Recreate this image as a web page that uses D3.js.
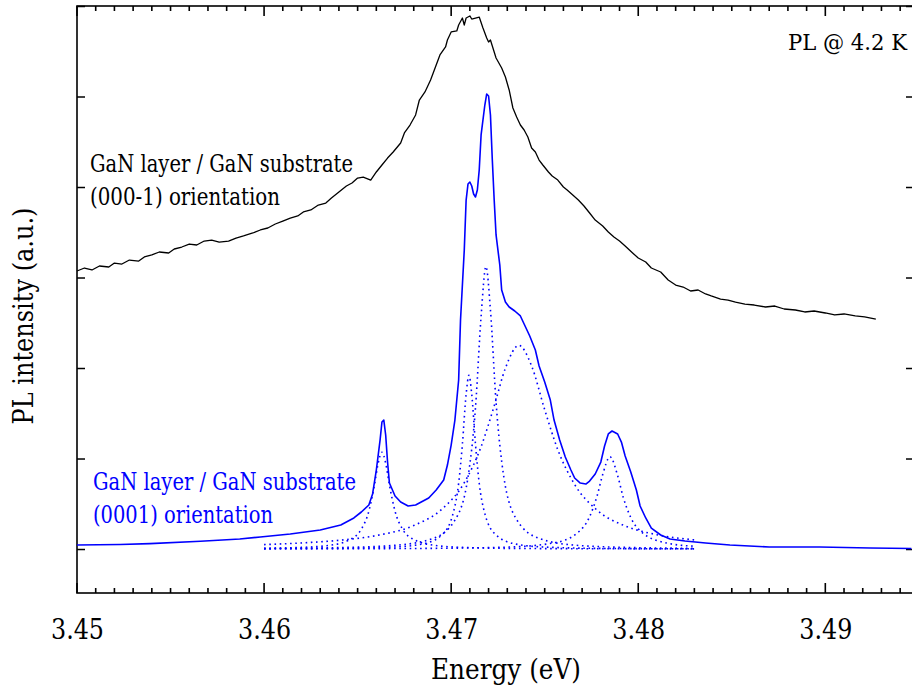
<!DOCTYPE html>
<html>
<head>
<meta charset="utf-8">
<script src="https://cdn.jsdelivr.net/npm/d3@7/dist/d3.min.js"></script>
<style>
  html, body { margin: 0; padding: 0; background: #fff; }
  svg { display: block; }
</style>
</head>
<body>
<svg id="chart" width="912" height="687" xmlns="http://www.w3.org/2000/svg"></svg>
<script>
// ---------- data ----------
const xTickLabels = [3.45, 3.46, 3.47, 3.48, 3.49];
const yTickValues = [0, 1, 2, 3, 4, 5, 6];

// (000-1) orientation, black spectrum
const nPolarE = [3.4500,3.4504,3.4508,3.4512,3.4517,3.4520,3.4524,3.4528,3.4533,3.4536,3.4540,3.4544,3.4549,3.4552,3.4556,3.4560,3.4564,3.4568,3.4572,3.4576,3.4581,3.4585,3.4589,3.4594,3.4598,3.4602,3.4606,3.4610,3.4614,3.4618,3.4621,3.4625,3.4629,3.4633,3.4636,3.4640,3.4644,3.4647,3.4650,3.4653,3.4657,3.4660,3.4663,3.4666,3.4669,3.4673,3.4675,3.4678,3.4681,3.4683,3.4686,3.4689,3.4691,3.4694,3.4697,3.4698,3.4700,3.4703,3.4704,3.4706,3.4707,3.4708,3.4710,3.4711,3.4713,3.4715,3.4717,3.4719,3.4720,3.4721,3.4722,3.4724,3.4727,3.4729,3.4731,3.4733,3.4735,3.4737,3.4739,3.4741,3.4743,3.4745,3.4747,3.4749,3.4752,3.4754,3.4757,3.4760,3.4762,3.4765,3.4768,3.4771,3.4774,3.4777,3.4781,3.4784,3.4787,3.4790,3.4793,3.4797,3.4800,3.4804,3.4807,3.4812,3.4816,3.4820,3.4824,3.4828,3.4832,3.4836,3.4839,3.4844,3.4848,3.4852,3.4857,3.4862,3.4868,3.4873,3.4878,3.4884,3.4889,3.4894,3.4900,3.4905,3.4910,3.4916,3.4921,3.4927];
const nPolarI = [3.072,3.105,3.083,3.127,3.116,3.160,3.149,3.193,3.182,3.227,3.249,3.282,3.271,3.315,3.337,3.370,3.359,3.403,3.414,3.392,3.403,3.436,3.459,3.492,3.525,3.547,3.591,3.624,3.657,3.680,3.724,3.746,3.801,3.823,3.878,3.945,4.011,4.044,4.099,4.110,4.077,4.166,4.243,4.320,4.387,4.486,4.597,4.685,4.796,4.961,5.050,5.182,5.293,5.459,5.547,5.624,5.713,5.724,5.790,5.867,5.790,5.867,5.890,5.856,5.867,5.878,5.757,5.646,5.602,5.624,5.558,5.425,5.315,5.215,5.072,4.873,4.773,4.685,4.630,4.552,4.431,4.387,4.298,4.243,4.166,4.122,4.077,4.000,3.967,3.912,3.856,3.790,3.713,3.635,3.569,3.503,3.448,3.403,3.348,3.271,3.215,3.171,3.105,3.061,2.972,2.917,2.895,2.851,2.862,2.818,2.796,2.762,2.751,2.729,2.707,2.696,2.674,2.685,2.652,2.641,2.619,2.630,2.608,2.586,2.597,2.575,2.564,2.541];

// (0001) orientation, blue spectrum
const gaPolarE = [3.4500,3.4523,3.4539,3.4566,3.4587,3.4598,3.4614,3.4630,3.4641,3.4648,3.4652,3.4656,3.4658,3.4660,3.4662,3.4663,3.4664,3.4665,3.4666,3.4667,3.4670,3.4673,3.4677,3.4681,3.4683,3.4688,3.4692,3.4696,3.4698,3.4700,3.4702,3.4704,3.4705,3.4707,3.4708,3.4709,3.4710,3.4711,3.4712,3.4713,3.4714,3.4715,3.4716,3.4718,3.4719,3.4720,3.4721,3.4722,3.4723,3.4724,3.4726,3.4727,3.4729,3.4731,3.4734,3.4737,3.4739,3.4742,3.4745,3.4747,3.4750,3.4753,3.4755,3.4758,3.4761,3.4764,3.4766,3.4769,3.4772,3.4774,3.4777,3.4780,3.4782,3.4784,3.4786,3.4789,3.4791,3.4793,3.4796,3.4799,3.4801,3.4804,3.4807,3.4812,3.4817,3.4825,3.4836,3.4849,3.4870,3.4897,3.4924,3.4946];
const gaPolarI = [0.044,0.050,0.060,0.085,0.110,0.133,0.166,0.210,0.265,0.343,0.409,0.486,0.608,0.873,1.204,1.403,1.425,1.260,0.961,0.729,0.586,0.519,0.475,0.486,0.508,0.564,0.652,0.762,0.928,1.149,1.425,1.867,2.530,3.300,3.856,4.033,4.055,4.011,3.923,3.890,3.967,4.188,4.575,4.906,5.028,5.006,4.796,4.298,3.856,3.470,3.138,2.862,2.729,2.674,2.630,2.575,2.486,2.354,2.199,2.022,1.845,1.646,1.425,1.204,1.017,0.873,0.785,0.729,0.718,0.751,0.829,0.961,1.138,1.271,1.304,1.271,1.182,1.028,0.851,0.652,0.475,0.343,0.232,0.155,0.110,0.088,0.066,0.044,0.022,0.022,0.011,0.005];

// fitted components (dotted)
const fit1E = [3.4600,3.4620,3.4635,3.4645,3.4652,3.4656,3.4659,3.4661,3.4663,3.4665,3.4667,3.4670,3.4674,3.4681,3.4691,3.4706,3.4730,3.4760,3.4800,3.4830];
const fit1I = [0.008,0.018,0.041,0.095,0.220,0.418,0.709,0.949,1.070,0.949,0.709,0.418,0.220,0.095,0.041,0.018,0.007,0.004,0.002,0.001];
const fit2E = [3.4600,3.4640,3.4670,3.4685,3.4695,3.4701,3.4704,3.4706,3.4708,3.47095,3.4711,3.4713,3.4715,3.4718,3.4724,3.4734,3.4749,3.4779,3.4830];
const fit2I = [0.003,0.007,0.023,0.057,0.155,0.391,0.727,1.157,1.710,1.920,1.710,1.157,0.727,0.391,0.155,0.057,0.023,0.007,0.002];
const fit3E = [3.4600,3.4640,3.4670,3.4690,3.4702,3.4709,3.4713,3.4716,3.47186,3.4721,3.4724,3.4728,3.4735,3.4747,3.4767,3.4797,3.4830];
const fit3I = [0.007,0.016,0.041,0.115,0.319,0.794,1.560,2.570,3.120,2.640,1.620,0.817,0.326,0.117,0.041,0.016,0.008];
const fit4E = [3.4600,3.4620,3.4640,3.4660,3.4680,3.4695,3.4707,3.4716,3.4723,3.4729,3.47362,3.4743,3.4750,3.4757,3.4766,3.4778,3.4793,3.4810,3.4830];
const fit4I = [0.049,0.067,0.096,0.149,0.260,0.439,0.733,1.131,1.581,1.998,2.250,2.023,1.539,1.097,0.714,0.429,0.255,0.158,0.101];
const fit5E = [3.4600,3.4680,3.4730,3.4755,3.4767,3.4774,3.4778,3.4781,3.47849,3.4789,3.4792,3.4796,3.4803,3.4815,3.4830];
const fit5I = [0.002,0.006,0.021,0.068,0.170,0.357,0.586,0.823,1.020,0.810,0.570,0.348,0.167,0.067,0.031];

// ---------- layout ----------
const FONT = "DejaVu Serif";
const svg = d3.select("#chart");
const mLeft = 77, mRight = 914, mTop = 6, mBottom = 593;

const x = d3.scaleLinear().domain([3.45, 3.49474]).range([mLeft, mRight]);
const y = d3.scaleLinear().domain([-0.486, 6]).range([mBottom, mTop]);

const minorTicks = d3.range(3450, 3495).map(d => d / 1000);

// frame
svg.append("rect").attr("x", mLeft).attr("y", mTop)
  .attr("width", mRight - mLeft).attr("height", mBottom - mTop)
  .attr("fill", "none").attr("stroke", "#000").attr("stroke-width", 1.6);

// x tick marks (inward), positioned with the x scale, drawn as one path per edge
function tickPath(values, y0, len) {
  return values.map(v => `M${x(v).toFixed(2)},${y0}v${len}`).join("");
}
svg.append("path").attr("class", "xticks")
  .attr("d", tickPath(minorTicks, mBottom, -5) + tickPath(xTickLabels, mBottom, -10)
           + tickPath(minorTicks, mTop, 5) + tickPath(xTickLabels, mTop, 10))
  .attr("fill", "none").attr("stroke", "#000").attr("stroke-width", 1.6);

// bottom axis labels (d3 axis)
const gBot = svg.append("g").attr("transform", `translate(0,${mBottom})`);
gBot.call(d3.axisBottom(x).tickValues(xTickLabels).tickSize(0).tickSizeOuter(0).tickFormat(d3.format(".2f")));
gBot.select(".domain").remove();
gBot.selectAll(".tick line").remove();
gBot.selectAll("text")
  .attr("y", 46).attr("dy", null)
  .attr("font-size", 27).attr("font-family", FONT).attr("fill", "#000")
  .attr("textLength", 53).attr("lengthAdjust", "spacingAndGlyphs");

// left and right axes (inward ticks)
function yTicks(g, len) {
  g.select(".domain").remove();
  g.selectAll(".tick line")
    .attr("x1", 0).attr("y1", 0).attr("x2", len).attr("y2", 0)
    .attr("stroke", "#000").attr("stroke-width", 1.5);
}
svg.append("g").attr("transform", `translate(${mLeft},0)`)
  .call(d3.axisLeft(y).tickValues(yTickValues).tickSize(-8).tickSizeOuter(0).tickFormat(""))
  .call(g => yTicks(g, 8));
svg.append("g").attr("transform", `translate(${mRight},0)`)
  .call(d3.axisRight(y).tickValues(yTickValues).tickSize(-8).tickSizeOuter(0).tickFormat(""))
  .call(g => yTicks(g, -8));

// ---------- curves ----------
const zip = (a, b) => a.map((v, i) => [v, b[i]]);
const smooth = d3.line().x(d => x(d[0])).y(d => y(d[1])).curve(d3.curveMonotoneX);
const plain = d3.line().x(d => x(d[0])).y(d => y(d[1]));

const fits = [[fit1E, fit1I], [fit2E, fit2I], [fit3E, fit3I], [fit4E, fit4I], [fit5E, fit5I]];
svg.append("g").selectAll("path").data(fits).join("path")
  .attr("d", d => smooth(zip(d[0], d[1])))
  .attr("fill", "none").attr("stroke", "#0000ff").attr("stroke-width", 1.6)
  .attr("stroke-dasharray", "1.6,3.6");

svg.append("path").attr("d", plain(zip(gaPolarE, gaPolarI)))
  .attr("fill", "none").attr("stroke", "#0000ff").attr("stroke-width", 1.6)
  .attr("stroke-linejoin", "round");

svg.append("path").attr("d", plain(zip(nPolarE, nPolarI)))
  .attr("fill", "none").attr("stroke", "#000").attr("stroke-width", 1.3)
  .attr("stroke-linejoin", "round");

// ---------- text ----------
const txt = (xx, yy, s, size, len, fill) => svg.append("text").attr("x", xx).attr("y", yy)
  .attr("font-size", size).attr("font-family", FONT).attr("fill", fill || "#000")
  .attr("textLength", len).attr("lengthAdjust", "spacingAndGlyphs").text(s);

txt(506, 679, "Energy (eV)", 27, 150).attr("text-anchor", "middle");
svg.append("text").attr("transform", "translate(33,316) rotate(-90)").attr("text-anchor", "middle")
  .attr("font-size", 27).attr("font-family", FONT)
  .attr("textLength", 217).attr("lengthAdjust", "spacingAndGlyphs").text("PL intensity (a.u.)");
txt(788, 50, "PL @ 4.2 K", 22, 119);

txt(90, 172, "GaN layer / GaN substrate", 25, 263);
txt(90, 205, "(000-1) orientation", 25, 190);
txt(93, 490, "GaN layer / GaN substrate", 25, 263, "#0000ff");
txt(93, 523, "(0001) orientation", 25, 180, "#0000ff");
</script>
</body>
</html>
